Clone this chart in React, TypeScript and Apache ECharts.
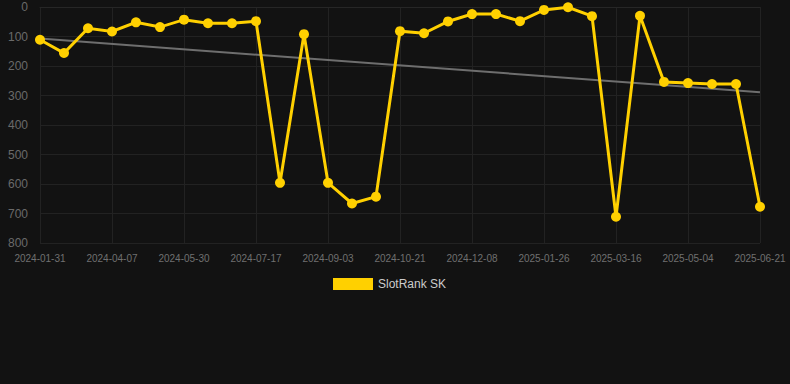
import React, { useEffect, useRef } from "react";
import * as echarts from "echarts";

const dates = [
  "2024-01-31", "2024-02-22", "2024-03-15", "2024-04-07", "2024-04-25", "2024-05-12",
  "2024-05-30", "2024-06-15", "2024-07-01", "2024-07-17", "2024-08-02", "2024-08-18",
  "2024-09-03", "2024-09-19", "2024-10-05", "2024-10-21", "2024-11-06", "2024-11-22",
  "2024-12-08", "2024-12-24", "2025-01-10", "2025-01-26", "2025-02-11", "2025-02-27",
  "2025-03-16", "2025-04-01", "2025-04-17", "2025-05-04", "2025-05-20", "2025-06-05",
  "2025-06-21",
];

const rankValues = [
  111, 156, 72, 83, 52, 68, 43, 55, 55, 48, 596, 92, 596, 666, 643, 82, 89, 49, 24, 24,
  48, 10, 1, 31, 711, 30, 254, 258, 261, 261, 677,
];

// trend line endpoints (first and last date)
const trendValues = [107, 289];

const seriesName = "SlotRank SK";

export default function App() {
  const ref = useRef<HTMLDivElement>(null);

  useEffect(() => {
    if (!ref.current) return;
    const chart = echarts.init(ref.current, null, { renderer: "svg" });
    const trendData = [
      [dates[0], trendValues[0]],
      [dates[dates.length - 1], trendValues[1]],
    ];
    chart.setOption({
      animation: false,
      backgroundColor: "#121212",
      grid: { left: 40, right: 30, top: 7, bottom: 141 },
      legend: {
        data: [{ name: seriesName, icon: "rect" }],
        left: 328,
        top: 273,
        itemWidth: 40,
        itemHeight: 12,
        itemGap: 10,
        textStyle: { color: "#cccccc", fontSize: 12, fontFamily: "Arial, Liberation Sans, sans-serif" },
      },
      xAxis: {
        type: "category",
        data: dates,
        boundaryGap: false,
        axisLine: { show: true, lineStyle: { color: "#262626", width: 1 } },
        axisTick: { show: false },
        axisLabel: {
          interval: 2,
          color: "#707070",
          fontSize: 10,
          margin: 10,
          fontFamily: "Arial, Liberation Sans, sans-serif",
        },
        splitLine: { show: true, interval: 2, lineStyle: { color: "#222222", width: 1 } },
      },
      yAxis: {
        type: "value",
        inverse: true,
        min: 0,
        max: 800,
        interval: 100,
        axisLine: { show: false },
        axisTick: { show: false },
        axisLabel: {
          color: "#6a6a6a",
          fontSize: 12,
          margin: 12,
          fontFamily: "Arial, Liberation Sans, sans-serif",
        },
        splitLine: { show: true, lineStyle: { color: "#222222", width: 1 } },
      },
      series: [
        {
          name: "trend",
          type: "line",
          data: trendData,
          symbol: "none",
          silent: true,
          lineStyle: { color: "#6e6e6e", width: 2 },
          z: 1,
        },
        {
          name: seriesName,
          type: "line",
          data: rankValues,
          symbol: "circle",
          symbolSize: 10,
          showSymbol: true,
          itemStyle: { color: "#FFD000" },
          lineStyle: { color: "#FFD000", width: 3, join: "miter" },
          z: 2,
        },
      ],
    });
    return () => chart.dispose();
  }, []);

  return (
    <div
      ref={ref}
      style={{ position: "fixed", left: 0, top: 0, width: 790, height: 384, background: "#121212" }}
    />
  );
}
